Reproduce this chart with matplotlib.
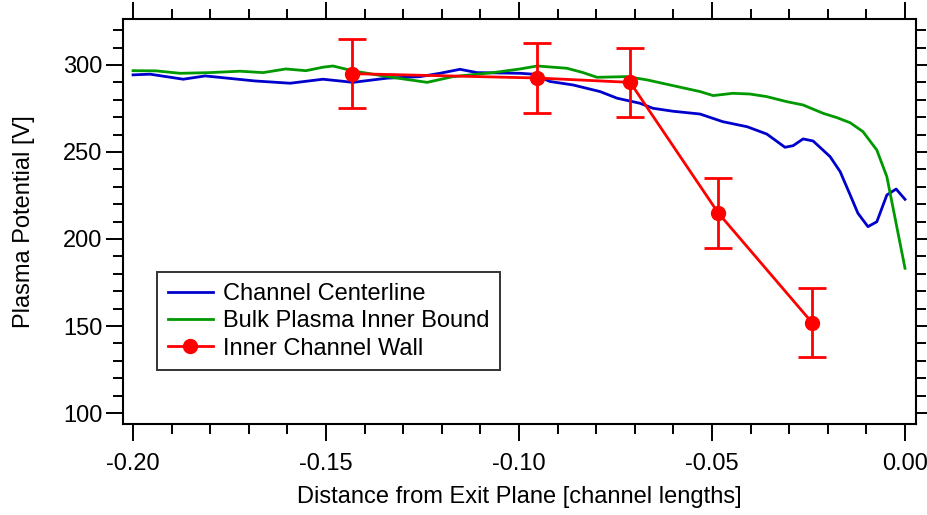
import matplotlib
matplotlib.use("Agg")
import matplotlib.pyplot as plt
from matplotlib.ticker import MultipleLocator, FormatStrFormatter

plt.rcParams['font.family'] = ['Liberation Sans', 'DejaVu Sans']

# Channel Centerline (blue)
blue_x = [-0.2000, -0.1956, -0.1870, -0.1813, -0.1684, -0.1593, -0.1508,
          -0.1430, -0.1342, -0.1256, -0.1205, -0.1153, -0.1109, -0.0997,
          -0.0964, -0.0920, -0.0860, -0.0790, -0.0746, -0.0687, -0.0653,
          -0.0601, -0.0531, -0.0472, -0.0409, -0.0358, -0.0311, -0.0290,
          -0.0264, -0.0238, -0.0194, -0.0168, -0.0142, -0.0122, -0.0096,
          -0.0073, -0.0047, -0.0023, 0.0000]
blue_y = [294.3, 294.7, 291.8, 293.7, 290.8, 289.5, 291.8,
          290.0, 292.4, 293.3, 295.2, 297.5, 295.6, 295.2,
          294.7, 290.5, 288.5, 284.7, 280.9, 278.0, 275.1,
          273.4, 271.8, 267.4, 264.5, 260.3, 252.7, 253.6,
          257.5, 256.3, 247.3, 238.7, 225.3, 214.8, 207.1,
          209.9, 225.3, 228.7, 222.8]

# Bulk Plasma Inner Bound (green)
green_x = [-0.2000, -0.1940, -0.1878, -0.1801, -0.1723, -0.1663, -0.1604,
           -0.1552, -0.1508, -0.1482, -0.1430, -0.1342, -0.1238, -0.1171,
           -0.1067, -0.0997, -0.0953, -0.0876, -0.0834, -0.0798, -0.0720,
           -0.0668, -0.0617, -0.0531, -0.0497, -0.0446, -0.0402, -0.0358,
           -0.0306, -0.0264, -0.0212, -0.0176, -0.0142, -0.0109, -0.0073,
           -0.0047, 0.0000]
green_y = [296.7, 296.6, 295.2, 295.6, 296.4, 295.6, 297.7,
           296.7, 298.7, 299.4, 296.6, 293.3, 290.0, 293.3,
           295.6, 297.7, 299.4, 298.1, 295.6, 292.9, 293.3,
           291.4, 288.9, 284.7, 282.4, 283.7, 283.3, 281.8,
           278.9, 277.0, 272.2, 269.7, 266.8, 261.7, 251.1,
           235.8, 183.2]

# Inner Channel Wall (red, with error bars)
red_x = [-0.1433, -0.0953, -0.0712, -0.0484, -0.0241]
red_y = [295.0, 292.5, 290.0, 215.0, 152.0]
red_err = [20.0, 20.0, 20.0, 20.0, 20.0]

FS = 17

fig = plt.figure(figsize=(9.28, 5.15), dpi=100)
ax = fig.add_axes([123/928, 1 - 424/515, (916-123)/928, (424-19)/515])

ax.plot(blue_x, blue_y, color='#0000cc', lw=2.0, label='Channel Centerline')
ax.plot(green_x, green_y, color='#009900', lw=2.0, label='Bulk Plasma Inner Bound')
ax.errorbar(red_x, red_y, yerr=red_err, fmt='none', ecolor='#ff0000',
            capsize=10, capthick=2.0, elinewidth=2.0)
ax.plot(red_x, red_y, color='#ff0000', lw=2.0, marker='o', markersize=10,
        label='Inner Channel Wall')

ax.set_xlim(-0.2026, 0.00285)
ax.set_ylim(93.7, 326.4)
ax.xaxis.set_major_locator(MultipleLocator(0.05))
ax.xaxis.set_minor_locator(MultipleLocator(0.01))
ax.xaxis.set_major_formatter(FormatStrFormatter('%.2f'))
ax.yaxis.set_major_locator(MultipleLocator(50))
ax.yaxis.set_minor_locator(MultipleLocator(10))

ax.tick_params(which='both', direction='out', top=True, right=True,
               labeltop=False, labelright=False, width=1.4, colors='black',
               labelsize=FS)
ax.tick_params(axis='x', which='major', pad=9)
ax.tick_params(axis='y', which='major', pad=3)
ax.tick_params(which='major', length=12)
ax.tick_params(which='minor', length=7)
for s in ax.spines.values():
    s.set_linewidth(1.5)

ax.set_xlabel('Distance from Exit Plane [channel lengths]', fontsize=FS, labelpad=8)
ax.set_ylabel('Plasma Potential [V]', fontsize=FS, labelpad=20)

leg = ax.legend(loc='lower left', bbox_to_anchor=(0.043, 0.133), fontsize=FS,
                frameon=True, fancybox=False, edgecolor='black',
                handlelength=1.9, borderpad=0.45, labelspacing=0.22,
                handletextpad=0.45, borderaxespad=0.0)
leg.get_frame().set_linewidth(1.4)

fig.savefig('out.png', dpi=100)
